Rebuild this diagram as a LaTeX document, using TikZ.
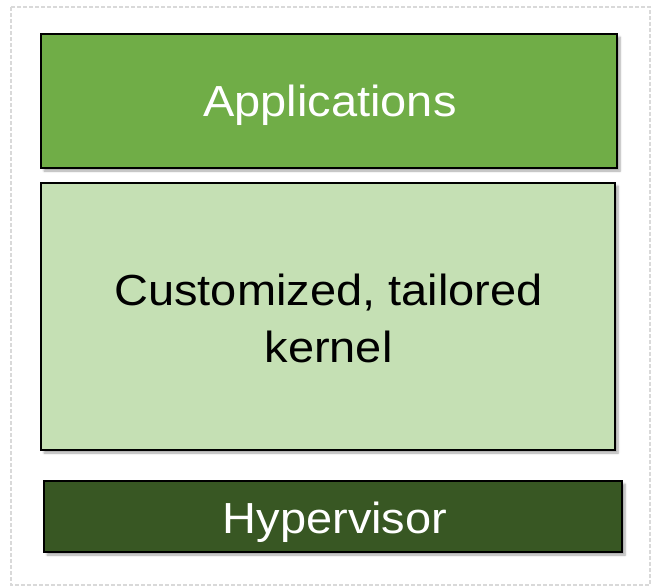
\documentclass[tikz,border=0pt]{standalone}
\usepackage{fontspec}
\setmainfont[FakeStretch=1.08]{Liberation Sans}
\usetikzlibrary{shadows.blur}
\definecolor{appgreen}{HTML}{70AD47}
\definecolor{kernelgreen}{HTML}{C5E0B4}
\definecolor{hypgreen}{HTML}{385723}
\definecolor{frame}{HTML}{D9D9D9}
\begin{document}
\begin{tikzpicture}[x=1pt,y=-1pt,
  layer/.style={draw=black, line width=2pt, inner sep=0pt,
    blur shadow={shadow xshift=3pt, shadow yshift=-3pt, shadow blur steps=6, shadow opacity=35}},
  caption/.style={anchor=base, inner sep=0pt, font=\fontsize{43.5}{57}\selectfont},
  ]
  \useasboundingbox (0,0) rectangle (651,587);
  % outer dashed frame
  \draw[frame, line width=2pt, dash pattern=on 4pt off 2pt] (11,7) rectangle (650,585);
  % stacked layers
  \node[layer, fill=appgreen, minimum width=576pt, minimum height=134pt]
    (apps) at (329,101) {};
  \node[layer, fill=kernelgreen, minimum width=574pt, minimum height=267pt]
    (kernel) at (328,316.5) {};
  \node[layer, fill=hypgreen, minimum width=578pt, minimum height=71pt]
    (hyp) at (333,516.5) {};
  % layer captions, set on their baselines
  \node[caption, text=white] (appstext) at (330,116) {Applications};
  \node[caption] (kerneltext1) at (328.5,305) {Customized, tailored};
  \node[caption] (kerneltext2) at (328.5,362) {kernel};
  \node[caption, text=white] (hyptext) at (335,533) {Hypervisor};
\end{tikzpicture}
\end{document}
